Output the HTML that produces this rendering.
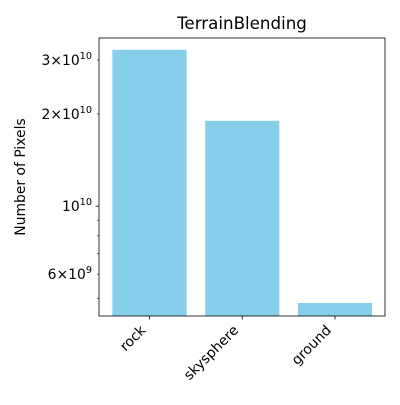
<!DOCTYPE html>
<html><head><meta charset="utf-8"><style>
body{margin:0;background:#fff;}
svg text{font-family:"DejaVu Sans","Liberation Sans",sans-serif;fill:#000;}
</style></head><body>
<svg width="400" height="400">
<rect width="400" height="400" fill="#fff"/>
<g id="bars"></g>
<g id="axes"></g>
</svg>
<script>
const categories=["rock","skysphere","ground"];
const values=[3.24e10,1.90e10,4.83e9];
const majorTicks=[1e10];
const majorExp=["10"];
const minorTicks=[5e9,6e9,7e9,8e9,9e9,2e10,3e10];
const minorLabelled=[6e9,2e10,3e10];
const minorLabelMant=["6","2","3"];
const minorLabelExp=["9","10","10"];

const L=99,R=385,T=38,B=316;
const yMin=Math.log10(4.38e9),yMax=Math.log10(3.54e10);
const y=v=>B-(Math.log10(v)-yMin)/(yMax-yMin)*(B-T);
const step=92.75;
const x=i=>149.5+step*i;
const bw=step*0.8;
const ns="http://www.w3.org/2000/svg";
function mk(tag,attrs,parent){const e=document.createElementNS(ns,tag);for(const k in attrs)e.setAttribute(k,attrs[k]);parent.appendChild(e);return e;}
const bars=document.getElementById('bars'),axes=document.getElementById('axes');
categories.forEach((c,i)=>{
  const r=mk('rect',{x:x(i)-bw/2,y:y(values[i]),width:bw,height:B-y(values[i]),fill:'#87ceeb'},bars);
  
  
  const t=mk('line',{x1:x(i),x2:x(i),y1:B,y2:B+3.5,stroke:'#000','stroke-width':0.8},axes);
  
  
  const ax=x(i)-3,ay=B+15;
  const lb=mk('text',{x:ax,y:ay,'font-size':13.9,'text-anchor':'end',transform:`rotate(-45 ${ax} ${ay})`},axes);
  lb.textContent=c;
  
  
});
const frame=mk('rect',{x:L,y:T,width:R-L,height:B-T,fill:'none',stroke:'#000','stroke-width':0.8},axes);


function label(v,m,e){
  const t=mk('text',{x:L-7,y:y(v)+5,'font-size':13.9,'text-anchor':'end'},axes);
  if(m){t.textContent=m+"\u00d7"+"10";}else t.textContent="10";
  const s=mk('tspan',{dy:-6,'font-size':9.7},t);s.textContent=e;
  
  
}
majorTicks.forEach((v,i)=>{
  const l=mk('line',{x1:L-3.5,x2:L,y1:y(v),y2:y(v),stroke:'#000','stroke-width':0.8},axes);
  
  
  label(v,null,majorExp[i]);
});
minorTicks.forEach(v=>{
  const l=mk('line',{x1:L-2,x2:L,y1:y(v),y2:y(v),stroke:'#000','stroke-width':0.6},axes);
  
  
});
minorLabelled.forEach((v,i)=>label(v,minorLabelMant[i],minorLabelExp[i]));
const yt=mk('text',{x:25,y:(T+B)/2,'font-size':13.9,'text-anchor':'middle',transform:`rotate(-90 25 ${(T+B)/2})`},axes);
yt.textContent="Number of Pixels";


const tt=mk('text',{x:(L+R)/2,y:T-9,'font-size':16.7,'text-anchor':'middle'},axes);
tt.textContent="TerrainBlending";


</script>
</body></html>
